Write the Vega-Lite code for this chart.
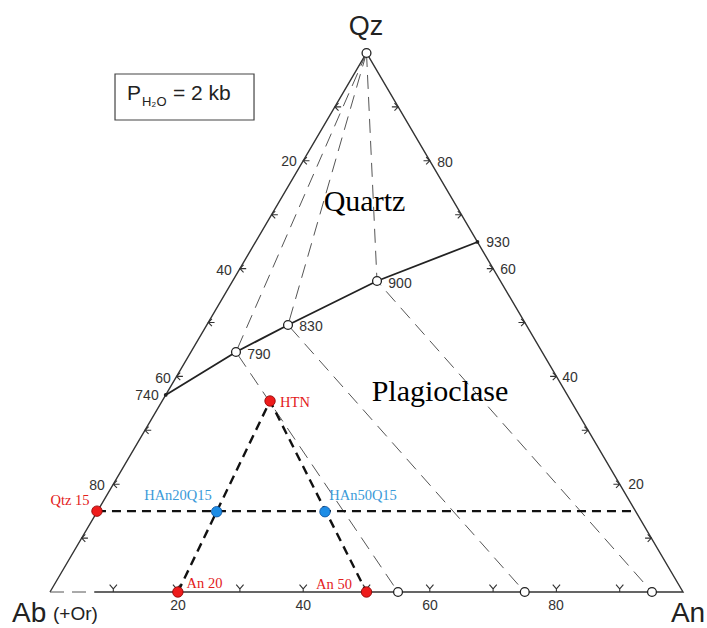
{
  "$schema": "https://vega.github.io/schema/vega-lite/v6.json",
  "width": 707,
  "height": 628,
  "autosize": {"type": "none"},
  "padding": 0,
  "background": "white",
  "config": {"view": {"stroke": null}},
  "datasets": {
    "lines": [
      {"id": "edge", "o": 0, "x": 0.07, "y": 0, "style": "solid"},
      {"id": "edge", "o": 1, "x": 1, "y": 0, "style": "solid"},
      {"id": "edge", "o": 2, "x": 0.5, "y": 1, "style": "solid"},
      {"id": "edge", "o": 3, "x": 0, "y": 0, "style": "solid"},
      {"id": "cot", "o": 0, "x": 0.1828, "y": 0.3655, "style": "cot"},
      {"id": "cot", "o": 1, "x": 0.2938, "y": 0.4453, "style": "cot"},
      {"id": "cot", "o": 2, "x": 0.376, "y": 0.4954, "style": "cot"},
      {"id": "cot", "o": 3, "x": 0.5166, "y": 0.577, "style": "cot"},
      {"id": "cot", "o": 4, "x": 0.6753, "y": 0.6494, "style": "cot"},
      {"id": "t1", "o": 0, "x": 0.5, "y": 1, "style": "thin"},
      {"id": "t1", "o": 1, "x": 0.2938, "y": 0.4453, "style": "thin"},
      {"id": "t1", "o": 2, "x": 0.5498, "y": 0, "style": "thin"},
      {"id": "t2", "o": 0, "x": 0.5, "y": 1, "style": "thin"},
      {"id": "t2", "o": 1, "x": 0.376, "y": 0.4954, "style": "thin"},
      {"id": "t2", "o": 2, "x": 0.75, "y": 0, "style": "thin"},
      {"id": "t3", "o": 0, "x": 0.5, "y": 1, "style": "thin"},
      {"id": "t3", "o": 1, "x": 0.5166, "y": 0.577, "style": "thin"},
      {"id": "t3", "o": 2, "x": 0.951, "y": 0, "style": "thin"},
      {"id": "t4", "o": 0, "x": 0, "y": 0, "style": "thin"},
      {"id": "t4", "o": 1, "x": 0.07, "y": 0, "style": "thin"},
      {"id": "b1", "o": 0, "x": 0.0742, "y": 0.15, "style": "bold"},
      {"id": "b1", "o": 1, "x": 0.925, "y": 0.15, "style": "bold"},
      {"id": "b2", "o": 0, "x": 0.202, "y": 0, "style": "bold"},
      {"id": "b2", "o": 1, "x": 0.3476, "y": 0.3544, "style": "bold"},
      {"id": "b2", "o": 2, "x": 0.5, "y": 0, "style": "bold"}
    ],
    "ticks": [
      {"side": "left", "x": 0.05, "y": 0.1}, {"side": "left", "x": 0.1, "y": 0.2},
      {"side": "left", "x": 0.15, "y": 0.3}, {"side": "left", "x": 0.2, "y": 0.4},
      {"side": "left", "x": 0.25, "y": 0.5}, {"side": "left", "x": 0.3, "y": 0.6},
      {"side": "left", "x": 0.35, "y": 0.7}, {"side": "left", "x": 0.4, "y": 0.8},
      {"side": "left", "x": 0.45, "y": 0.9},
      {"side": "right", "x": 0.95, "y": 0.1}, {"side": "right", "x": 0.9, "y": 0.2},
      {"side": "right", "x": 0.85, "y": 0.3}, {"side": "right", "x": 0.8, "y": 0.4},
      {"side": "right", "x": 0.75, "y": 0.5}, {"side": "right", "x": 0.7, "y": 0.6},
      {"side": "right", "x": 0.65, "y": 0.7}, {"side": "right", "x": 0.6, "y": 0.8},
      {"side": "right", "x": 0.55, "y": 0.9},
      {"side": "bottom", "x": 0.1, "y": 0}, {"side": "bottom", "x": 0.2, "y": 0},
      {"side": "bottom", "x": 0.3, "y": 0}, {"side": "bottom", "x": 0.4, "y": 0},
      {"side": "bottom", "x": 0.5, "y": 0}, {"side": "bottom", "x": 0.6, "y": 0},
      {"side": "bottom", "x": 0.7, "y": 0}, {"side": "bottom", "x": 0.8, "y": 0},
      {"side": "bottom", "x": 0.9, "y": 0}
    ],
    "points": [
      {"kind": "open", "x": 0.5, "y": 1},
      {"kind": "open", "x": 0.2938, "y": 0.4453},
      {"kind": "open", "x": 0.376, "y": 0.4954},
      {"kind": "open", "x": 0.5166, "y": 0.577},
      {"kind": "open", "x": 0.5498, "y": 0},
      {"kind": "open", "x": 0.75, "y": 0},
      {"kind": "open", "x": 0.951, "y": 0},
      {"kind": "dot", "x": 0.1828, "y": 0.3655},
      {"kind": "dot", "x": 0.6753, "y": 0.6494},
      {"kind": "red", "x": 0.0742, "y": 0.15},
      {"kind": "red", "x": 0.3476, "y": 0.3544},
      {"kind": "red", "x": 0.202, "y": 0},
      {"kind": "red", "x": 0.5, "y": 0},
      {"kind": "blue", "x": 0.2633, "y": 0.149},
      {"kind": "blue", "x": 0.4344, "y": 0.149}
    ],
    "box": [
      {"x": 0.1027, "x2": 0.3223, "y": 0.961, "y2": 0.8757}
    ],
    "texts": [
      {"kind": "num", "label": "20", "x": 0.2022, "y": -0.026},
      {"kind": "num", "label": "40", "x": 0.4, "y": -0.026},
      {"kind": "num", "label": "60", "x": 0.6003, "y": -0.026},
      {"kind": "num", "label": "80", "x": 0.7994, "y": -0.026},
      {"kind": "num", "label": "20", "x": 0.3776, "y": 0.7978},
      {"kind": "num", "label": "40", "x": 0.2749, "y": 0.5955},
      {"kind": "num", "label": "60", "x": 0.1785, "y": 0.3952},
      {"kind": "num", "label": "80", "x": 0.0742, "y": 0.1967},
      {"kind": "num", "label": "80", "x": 0.624, "y": 0.7959},
      {"kind": "num", "label": "60", "x": 0.7235, "y": 0.5974},
      {"kind": "num", "label": "40", "x": 0.8215, "y": 0.397},
      {"kind": "num", "label": "20", "x": 0.9258, "y": 0.1985},
      {"kind": "num", "label": "740", "x": 0.1532, "y": 0.3636},
      {"kind": "num", "label": "790", "x": 0.330, "y": 0.4397},
      {"kind": "num", "label": "830", "x": 0.4123, "y": 0.4917},
      {"kind": "num", "label": "900", "x": 0.5529, "y": 0.5714},
      {"kind": "num", "label": "930", "x": 0.7077, "y": 0.6475},
      {"kind": "qz", "label": "Qz", "x": 0.4992, "y": 1.0482},
      {"kind": "ab", "label": "Ab", "x": -0.0600, "y": -0.0557},
      {"kind": "or", "label": "(+Or)", "x": 0.0047, "y": -0.052},
      {"kind": "an", "label": "An", "x": 1.0079, "y": -0.0557},
      {"kind": "serif", "label": "Quartz", "x": 0.4968, "y": 0.7069},
      {"kind": "serif", "label": "Plagioclase", "x": 0.6161, "y": 0.3544},
      {"kind": "red", "label": "Qtz 15", "x": 0.0316, "y": 0.1688},
      {"kind": "red", "label": "HTN", "x": 0.387, "y": 0.3506},
      {"kind": "red", "label": "An 20", "x": 0.244, "y": 0.0148},
      {"kind": "red", "label": "An 50", "x": 0.4487, "y": 0.013},
      {"kind": "blue", "label": "HAn20Q15", "x": 0.2022, "y": 0.1781},
      {"kind": "blue", "label": "HAn50Q15", "x": 0.4945, "y": 0.1781},
      {"kind": "p", "label": "P", "x": 0.1216, "y": 0.9128},
      {"kind": "sub", "label": "H₂O", "x": 0.1453, "y": 0.9017},
      {"kind": "eq", "label": "= 2 kb", "x": 0.1943, "y": 0.9128}
    ]
  },
  "encoding": {
    "x": {"field": "x", "type": "quantitative", "scale": {"domain": [-0.07899, 1.03791], "nice": false, "zero": false}, "axis": null},
    "y": {"field": "y", "type": "quantitative", "scale": {"domain": [-0.06679, 1.09833], "nice": false, "zero": false}, "axis": null}
  },
  "layer": [
    {
      "data": {"name": "box"},
      "mark": {"type": "rect", "fill": "white", "stroke": "#444", "strokeWidth": 1.2},
      "encoding": {"x2": {"field": "x2"}, "y2": {"field": "y2"}}
    },
    {
      "data": {"name": "lines"},
      "transform": [{"filter": "datum.style == 'solid'"}],
      "mark": {"type": "line", "stroke": "#333", "strokeWidth": 1.4},
      "encoding": {"detail": {"field": "id"}, "order": {"field": "o"}}
    },
    {
      "data": {"name": "lines"},
      "transform": [{"filter": "datum.style == 'cot'"}],
      "mark": {"type": "line", "stroke": "#222", "strokeWidth": 1.8},
      "encoding": {"detail": {"field": "id"}, "order": {"field": "o"}}
    },
    {
      "data": {"name": "lines"},
      "transform": [{"filter": "datum.style == 'thin'"}],
      "mark": {"type": "line", "stroke": "#555", "strokeWidth": 1, "strokeDash": [14, 8]},
      "encoding": {"detail": {"field": "id"}, "order": {"field": "o"}}
    },
    {
      "data": {"name": "lines"},
      "transform": [{"filter": "datum.style == 'bold'"}],
      "mark": {"type": "line", "stroke": "#111", "strokeWidth": 2.4, "strokeDash": [9, 6]},
      "encoding": {"detail": {"field": "id"}, "order": {"field": "o"}}
    },
    {
      "data": {"name": "ticks"},
      "transform": [{"filter": "datum.side == 'left'"}],
      "mark": {"type": "point", "shape": "M 1.2 0 L 0 0 M 0.7 -0.7 L 0 0 L 0.7 0.7", "filled": false, "color": "#333", "strokeWidth": 1.1, "size": 110, "opacity": 1}
    },
    {
      "data": {"name": "ticks"},
      "transform": [{"filter": "datum.side == 'right'"}],
      "mark": {"type": "point", "shape": "M -1.2 0 L 0 0 M -0.7 -0.7 L 0 0 L -0.7 0.7", "filled": false, "color": "#333", "strokeWidth": 1.1, "size": 110, "opacity": 1}
    },
    {
      "data": {"name": "ticks"},
      "transform": [{"filter": "datum.side == 'bottom'"}],
      "mark": {"type": "point", "shape": "M -0.7 -1.4 L 0 -0.6 L 0.7 -1.4 M 0 -0.6 L 0 0", "filled": false, "color": "#333", "strokeWidth": 1.1, "size": 110, "opacity": 1}
    },
    {
      "data": {"name": "points"},
      "transform": [{"filter": "datum.kind == 'open'"}],
      "mark": {"type": "circle", "color": "white", "stroke": "#222", "strokeWidth": 1.3, "size": 78, "opacity": 1}
    },
    {
      "data": {"name": "points"},
      "transform": [{"filter": "datum.kind == 'dot'"}],
      "mark": {"type": "circle", "color": "#222", "size": 14, "opacity": 1}
    },
    {
      "data": {"name": "points"},
      "transform": [{"filter": "datum.kind == 'red'"}],
      "mark": {"type": "circle", "color": "#ee1c1c", "stroke": "#8a0000", "strokeWidth": 0.8, "size": 110, "opacity": 1}
    },
    {
      "data": {"name": "points"},
      "transform": [{"filter": "datum.kind == 'blue'"}],
      "mark": {"type": "circle", "color": "#1e8de6", "stroke": "#0b4f9c", "strokeWidth": 0.8, "size": 110, "opacity": 1}
    },
    {
      "data": {"name": "texts"},
      "transform": [{"filter": "datum.kind == 'num'"}],
      "mark": {"type": "text", "font": "Liberation Sans", "fontSize": 14, "color": "#333", "align": "center", "baseline": "middle"},
      "encoding": {"text": {"field": "label"}}
    },
    {
      "data": {"name": "texts"},
      "transform": [{"filter": "datum.kind == 'qz'"}],
      "mark": {"type": "text", "font": "Liberation Sans", "fontSize": 27, "color": "#222", "align": "center", "baseline": "middle"},
      "encoding": {"text": {"field": "label"}}
    },
    {
      "data": {"name": "texts"},
      "transform": [{"filter": "datum.kind == 'ab'"}],
      "mark": {"type": "text", "font": "Liberation Sans", "fontSize": 28, "color": "#222", "align": "left", "baseline": "alphabetic"},
      "encoding": {"text": {"field": "label"}}
    },
    {
      "data": {"name": "texts"},
      "transform": [{"filter": "datum.kind == 'or'"}],
      "mark": {"type": "text", "font": "Liberation Sans", "fontSize": 19, "color": "#222", "align": "left", "baseline": "alphabetic"},
      "encoding": {"text": {"field": "label"}}
    },
    {
      "data": {"name": "texts"},
      "transform": [{"filter": "datum.kind == 'an'"}],
      "mark": {"type": "text", "font": "Liberation Sans", "fontSize": 28, "color": "#222", "align": "center", "baseline": "alphabetic"},
      "encoding": {"text": {"field": "label"}}
    },
    {
      "data": {"name": "texts"},
      "transform": [{"filter": "datum.kind == 'serif'"}],
      "mark": {"type": "text", "font": "Liberation Serif", "fontSize": 30, "color": "#000", "align": "center", "baseline": "alphabetic"},
      "encoding": {"text": {"field": "label"}}
    },
    {
      "data": {"name": "texts"},
      "transform": [{"filter": "datum.kind == 'red'"}],
      "mark": {"type": "text", "font": "Liberation Serif", "fontSize": 14.5, "color": "#e3201b", "align": "center", "baseline": "middle"},
      "encoding": {"text": {"field": "label"}}
    },
    {
      "data": {"name": "texts"},
      "transform": [{"filter": "datum.kind == 'blue'"}],
      "mark": {"type": "text", "font": "Liberation Serif", "fontSize": 14.5, "color": "#3a9ad9", "align": "center", "baseline": "middle"},
      "encoding": {"text": {"field": "label"}}
    },
    {
      "data": {"name": "texts"},
      "transform": [{"filter": "datum.kind == 'p' || datum.kind == 'eq'"}],
      "mark": {"type": "text", "font": "Liberation Sans", "fontSize": 21, "color": "#222", "align": "left", "baseline": "alphabetic"},
      "encoding": {"text": {"field": "label"}}
    },
    {
      "data": {"name": "texts"},
      "transform": [{"filter": "datum.kind == 'sub'"}],
      "mark": {"type": "text", "font": "Liberation Sans", "fontSize": 13, "color": "#222", "align": "left", "baseline": "alphabetic"},
      "encoding": {"text": {"field": "label"}}
    }
  ]
}
